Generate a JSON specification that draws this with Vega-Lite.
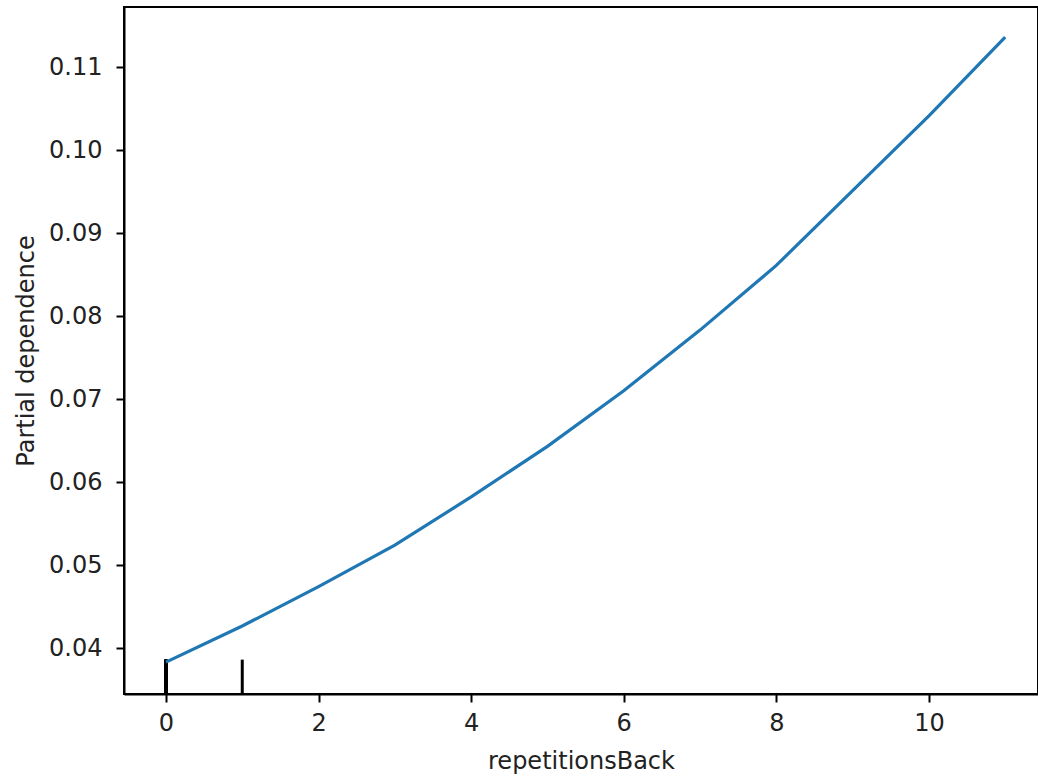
{
  "$schema": "https://vega.github.io/schema/vega-lite/v6.json",
  "width": 914,
  "height": 687,
  "autosize": {"type": "none"},
  "padding": {"left": 124, "top": 7, "right": 0, "bottom": 82},
  "background": "white",
  "config": {
    "view": {"stroke": "#000000", "strokeWidth": 2},
    "axis": {
      "grid": false,
      "domainColor": "#000000",
      "domainWidth": 2,
      "tickColor": "#000000",
      "tickSize": 8,
      "tickWidth": 2,
      "labelFont": "DejaVu Sans",
      "labelFontSize": 24,
      "labelColor": "#222222",
      "titleFont": "DejaVu Sans",
      "titleFontSize": 24,
      "titleFontWeight": "normal",
      "titleColor": "#222222"
    }
  },
  "datasets": {
    "pd": [
      {"repetitionsBack": 0, "pd": 0.0383},
      {"repetitionsBack": 1, "pd": 0.04265},
      {"repetitionsBack": 2, "pd": 0.0474},
      {"repetitionsBack": 3, "pd": 0.0524},
      {"repetitionsBack": 4, "pd": 0.0582},
      {"repetitionsBack": 5, "pd": 0.0643},
      {"repetitionsBack": 6, "pd": 0.0710},
      {"repetitionsBack": 7, "pd": 0.0783},
      {"repetitionsBack": 8, "pd": 0.0861},
      {"repetitionsBack": 9, "pd": 0.0951},
      {"repetitionsBack": 10, "pd": 0.1041},
      {"repetitionsBack": 11, "pd": 0.1136}
    ],
    "deciles": [
      {"decile": 0}, {"decile": 0}, {"decile": 0}, {"decile": 0},
      {"decile": 0}, {"decile": 0}, {"decile": 0}, {"decile": 0},
      {"decile": 1}
    ]
  },
  "layer": [
    {
      "data": {"name": "deciles"},
      "mark": {"type": "rule", "color": "#000000", "strokeWidth": 3},
      "encoding": {
        "x": {"field": "decile", "type": "quantitative"},
        "y": {"datum": 0.03446, "type": "quantitative"},
        "y2": {"datum": 0.0386}
      }
    },
    {
      "data": {"name": "pd"},
      "mark": {"type": "line", "color": "#1f77b4", "strokeWidth": 3.2, "clip": true},
      "encoding": {
        "x": {
          "field": "repetitionsBack",
          "type": "quantitative",
          "scale": {"domain": [-0.55, 11.43], "nice": false, "zero": false},
          "axis": {"values": [0, 2, 4, 6, 8, 10], "format": "d", "title": "repetitionsBack", "labelPadding": 9, "titlePadding": 14}
        },
        "y": {
          "field": "pd",
          "type": "quantitative",
          "scale": {"domain": [0.03446, 0.11723], "nice": false, "zero": false},
          "axis": {
            "values": [0.04, 0.05, 0.06, 0.07, 0.08, 0.09, 0.1, 0.11],
            "format": ".2f",
            "title": "Partial dependence",
            "labelPadding": 14,
            "titlePadding": 10
          }
        }
      }
    }
  ]
}
